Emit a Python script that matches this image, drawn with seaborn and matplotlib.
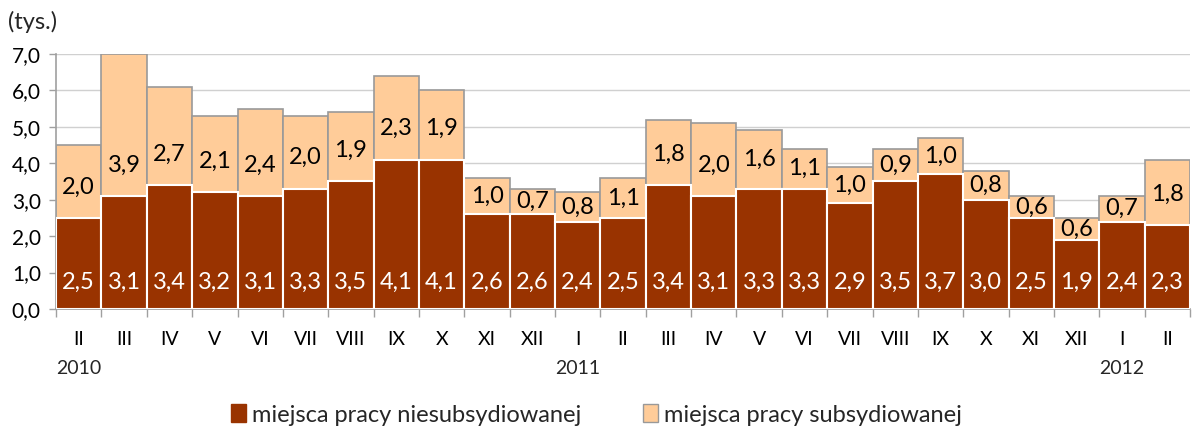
import matplotlib
matplotlib.use("Agg")
import matplotlib.pyplot as plt
import matplotlib.transforms as mtransforms
from matplotlib.patches import Patch
import seaborn as sns
import pandas as pd
import numpy as np

months = ["II", "III", "IV", "V", "VI", "VII", "VIII", "IX", "X", "XI", "XII",
          "I", "II", "III", "IV", "V", "VI", "VII", "VIII", "IX", "X", "XI", "XII",
          "I", "II"]
years = {0: "2010", 11: "2011", 23: "2012"}
niesubsydiowane = [2.5, 3.1, 3.4, 3.2, 3.1, 3.3, 3.5, 4.1, 4.1, 2.6, 2.6, 2.4, 2.5,
                   3.4, 3.1, 3.3, 3.3, 2.9, 3.5, 3.7, 3.0, 2.5, 1.9, 2.4, 2.3]
subsydiowane = [2.0, 3.9, 2.7, 2.1, 2.4, 2.0, 1.9, 2.3, 1.9, 1.0, 0.7, 0.8, 1.1,
                1.8, 2.0, 1.6, 1.1, 1.0, 0.9, 1.0, 0.8, 0.6, 0.6, 0.7, 1.8]
legend_labels = ["miejsca pracy niesubsydiowanej", "miejsca pracy subsydiowanej"]

DARK = "#993300"
LIGHT = "#FFCC99"

sns.set_theme(style="white")
plt.rcParams["font.family"] = ["Lato", "DejaVu Sans"]

df = pd.DataFrame({
    "pos": [str(i) for i in range(len(months))],
    "dark": niesubsydiowane,
    "light": subsydiowane,
})
df["total"] = df["dark"] + df["light"]

fig = plt.figure(figsize=(11.93, 4.28), dpi=100)
ax = fig.add_axes([0.047, 0.278, 0.9505, 0.596])

order = list(df["pos"])
sns.barplot(data=df, x="pos", y="total", order=order, color=LIGHT, width=1.0,
            edgecolor="#999999", linewidth=1.2, saturation=1, ax=ax, zorder=2)
sns.barplot(data=df, x="pos", y="dark", order=order, color=DARK, width=1.0,
            edgecolor="white", linewidth=1.5, saturation=1, ax=ax, zorder=3)

ax.set_xlim(-0.5, len(months) - 0.5)
ax.set_ylim(0, 7)
ax.set_yticks(np.arange(0, 7.01, 1))
ax.set_yticklabels([f"{v:.1f}".replace(".", ",") for v in np.arange(0, 7.01, 1)],
                   fontsize=15, color="#000000")
ax.set_xticks(range(len(months)))
ax.set_xticklabels(months, fontsize=14, color="#000000")
ax.set_xticks(np.arange(-0.5, len(months), 1), minor=True)
ax.tick_params(axis="x", which="major", length=0, pad=16)
ax.tick_params(axis="x", which="minor", length=6, color="#a0a0a0", width=1, direction="out", bottom=True)
ax.tick_params(axis="y", length=5, color="#a0a0a0", width=1, direction="out", left=True, pad=6)
ax.set_xlabel("")
ax.set_ylabel("")

ax.yaxis.grid(True, color="#d0d0d0", linewidth=1)
ax.set_axisbelow(True)
for s in ["top", "right"]:
    ax.spines[s].set_visible(False)
for s in ["left", "bottom"]:
    ax.spines[s].set_color("#a0a0a0")
    ax.spines[s].set_linewidth(1.2)

for i, (d, l) in enumerate(zip(niesubsydiowane, subsydiowane)):
    ax.text(i, 0.72, f"{d:.1f}".replace(".", ","), ha="center", va="center",
            color="white", fontsize=17, zorder=5)
    ly = min(d + l / 2, d + 0.85)
    ax.text(i, ly, f"{l:.1f}".replace(".", ","), ha="center", va="center",
            color="black", fontsize=17, zorder=5)

trans = mtransforms.blended_transform_factory(ax.transData, fig.transFigure)
for i, y in years.items():
    ax.text(i, 1 - 368 / 428, y, ha="center", va="center", fontsize=14,
            transform=trans)

fig.text(8 / 1193, 1 - 22 / 428, "(tys.)", ha="left", va="center", fontsize=17)

handles = [Patch(facecolor=DARK, edgecolor=DARK),
           Patch(facecolor=LIGHT, edgecolor="#999999")]
fig.legend(handles, legend_labels, loc="center", bbox_to_anchor=(0.5, 1 - 415 / 428),
           ncol=2, frameon=False, fontsize=17, handlelength=0.65, handleheight=0.8,
           handletextpad=0.25, columnspacing=2.6)

fig.savefig("out.png", dpi=100)
